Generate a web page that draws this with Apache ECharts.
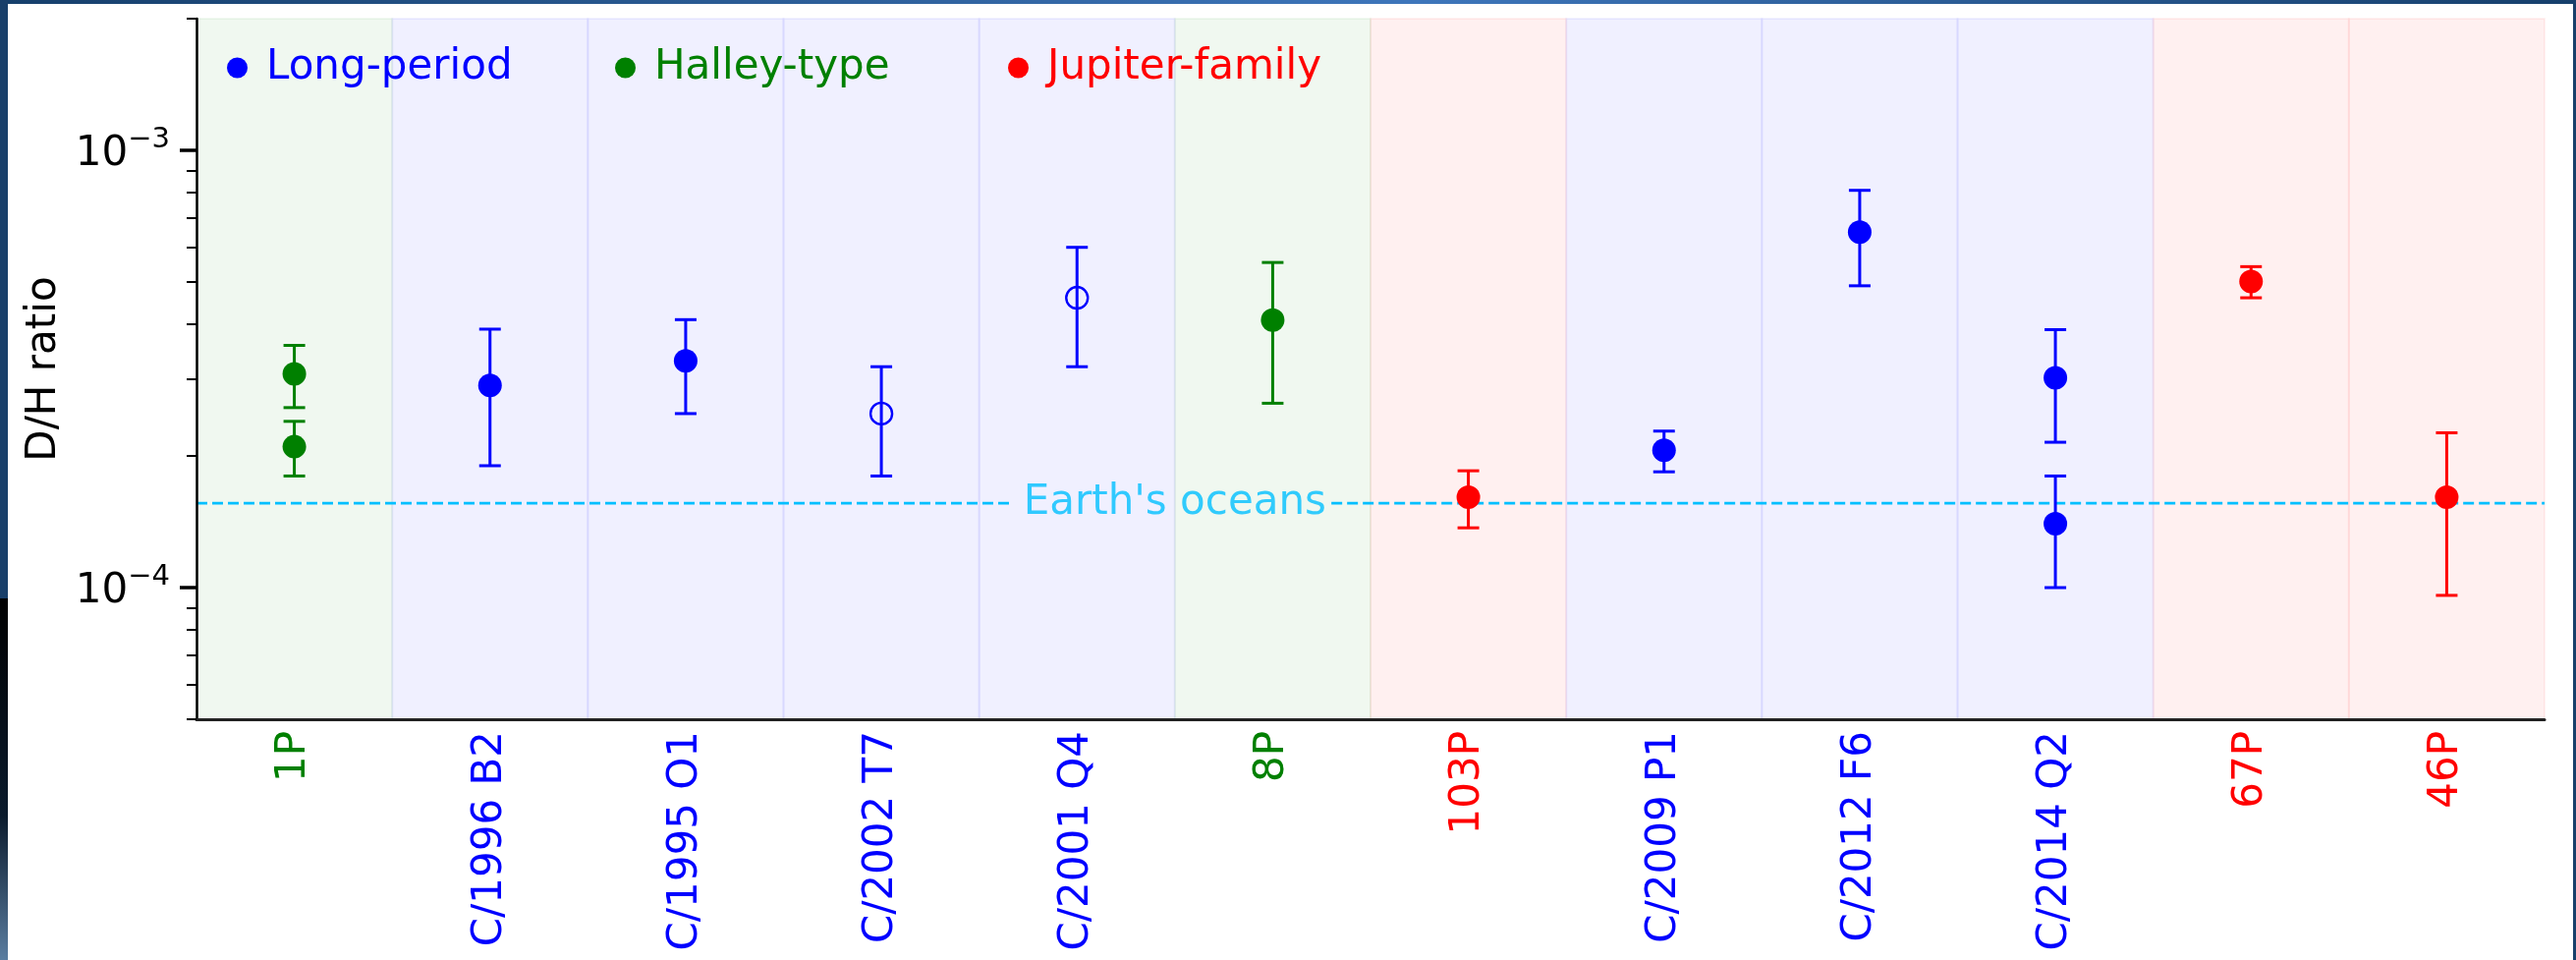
<!DOCTYPE html>
<html><head><meta charset="utf-8">
<script src="https://cdn.jsdelivr.net/npm/echarts@6/dist/echarts.min.js"></script>
<style>html,body{margin:0;padding:0;background:#fff;overflow:hidden}#c{width:2622px;height:977px}</style>
</head><body><div id="c"></div>
<script>
// ---------------- data ----------------
const categories = ['1P','C/1996 B2','C/1995 O1','C/2002 T7','C/2001 Q4','8P','103P','C/2009 P1','C/2012 F6','C/2014 Q2','67P','46P'];
const categoryFamily = ['Halley-type','Long-period','Long-period','Long-period','Long-period','Halley-type','Jupiter-family','Long-period','Long-period','Long-period','Jupiter-family','Jupiter-family'];
const families = ['Long-period','Halley-type','Jupiter-family'];

const measComet = ['1P','1P','C/1996 B2','C/1995 O1','C/2002 T7','C/2001 Q4','8P','103P','C/2009 P1','C/2012 F6','C/2014 Q2','C/2014 Q2','67P','46P'];
const measValue = [3.08e-4, 2.1e-4, 2.9e-4, 3.3e-4, 2.5e-4, 4.6e-4, 4.09e-4, 1.61e-4, 2.06e-4, 6.5e-4, 3.02e-4, 1.40e-4, 5.01e-4, 1.61e-4];
const measError = [0.5e-4, 0.3e-4, 1.0e-4, 0.8e-4, 0.7e-4, 1.4e-4, 1.45e-4, 0.24e-4, 0.22e-4, 1.6e-4, 0.87e-4, 0.4e-4, 0.41e-4, 0.65e-4];
const measOpen = [false,false,false,false,true,true,false,false,false,false,false,false,false,false];

const earthOceansDH = 1.56e-4;
const earthLabel = "Earth's oceans";

const yMin = 5e-5, yMax = 2e-3;
const majorTicks = [1e-4, 1e-3];
const majorTickExponents = ['\u22124', '\u22123'];
const minorTicks = [5e-5,6e-5,7e-5,8e-5,9e-5,2e-4,3e-4,4e-4,5e-4,6e-4,7e-4,8e-4,9e-4,2e-3];
const yAxisTitle = 'D/H ratio';

// ---------------- styling ----------------
const FONT = 'DejaVu Sans';
const familyColor = {'Long-period':'#0000ff','Halley-type':'#008000','Jupiter-family':'#ff0000'};
const bandFill = {'Long-period':'rgba(0,0,255,0.06)','Halley-type':'rgba(0,128,0,0.06)','Jupiter-family':'rgba(255,0,0,0.06)'};
const bandStroke = {'Long-period':'rgba(0,0,255,0.05)','Halley-type':'rgba(0,128,0,0.05)','Jupiter-family':'rgba(255,0,0,0.05)'};
const L = Math.log10;

const chart = echarts.init(document.getElementById('c'), null, {renderer:'canvas'});

const series = [];
// background bands
series.push({
  type:'custom', name:'bands', z:1, silent:true, xAxisIndex:0, yAxisIndex:0,
  data: categories.map((c,i)=>[i, L(yMax)]),
  renderItem(params, api){
    const i = api.value(0);
    const fam = categoryFamily[i];
    const p = api.coord([i, L(yMax)]);
    const w = api.size([1,0])[0];
    const cs = params.coordSys;
    return {type:'rect', shape:{x:p[0]-w/2, y:cs.y, width:w, height:cs.height},
      style:{fill:bandFill[fam], stroke:bandStroke[fam], lineWidth:2}};
  }
});

// earth oceans dashed line (split around the label)
const earthLineStyle = {color:'#00bfff', width:2.6, type:[11,5]};
series.push({type:'line', name:'earth1', xAxisIndex:1, yAxisIndex:0, z:2, symbol:'none', silent:true,
  data:[[0, L(earthOceansDH)],[4.17, L(earthOceansDH)]], lineStyle:earthLineStyle});
series.push({type:'line', name:'earth2', xAxisIndex:1, yAxisIndex:0, z:2, symbol:'none', silent:true,
  data:[[5.8, L(earthOceansDH)],[12, L(earthOceansDH)]], lineStyle:earthLineStyle});
series.push({type:'scatter', name:'earthLabel', xAxisIndex:1, yAxisIndex:0, z:2, symbolSize:1, silent:true,
  itemStyle:{color:'rgba(0,0,0,0)'},
  data:[[5, L(earthOceansDH)]],
  label:{show:true, position:'inside', formatter:earthLabel, color:'#00bfff', fontSize:42, fontFamily:FONT}});

families.forEach(fam=>{
  const idx = measComet.map((c,k)=>k).filter(k=>categoryFamily[categories.indexOf(measComet[k])]===fam);
  // error bars
  series.push({
    type:'custom', name:fam+' err', z:3, silent:true, xAxisIndex:0, yAxisIndex:0,
    encode:{x:0, y:[1,2]},
    data: idx.map(k=>[categories.indexOf(measComet[k]), L(measValue[k]-measError[k]), L(measValue[k]+measError[k])]),
    renderItem(params, api){
      const x = api.value(0);
      const a = api.coord([x, api.value(1)]);
      const b = api.coord([x, api.value(2)]);
      const st = {stroke:familyColor[fam], lineWidth:3};
      const cw = 11;
      return {type:'group', children:[
        {type:'line', shape:{x1:a[0], y1:a[1], x2:b[0], y2:b[1]}, style:st},
        {type:'line', shape:{x1:a[0]-cw, y1:a[1], x2:a[0]+cw, y2:a[1]}, style:st},
        {type:'line', shape:{x1:b[0]-cw, y1:b[1], x2:b[0]+cw, y2:b[1]}, style:st}
      ]};
    }
  });
  // filled markers
  series.push({
    type:'scatter', name:fam, z:4, xAxisIndex:0, yAxisIndex:0, symbol:'circle', symbolSize:24,
    itemStyle:{color:familyColor[fam], opacity:1},
    data: idx.filter(k=>!measOpen[k]).map(k=>[categories.indexOf(measComet[k]), L(measValue[k])])
  });
  const openIdx = idx.filter(k=>measOpen[k]);
  if (openIdx.length) {
    series.push({
      type:'scatter', name:fam+' (open)', z:4, xAxisIndex:0, yAxisIndex:0, symbol:'circle', symbolSize:22,
      itemStyle:{color:'rgba(0,0,0,0)', borderColor:familyColor[fam], borderWidth:2.4, opacity:1},
      data: openIdx.map(k=>[categories.indexOf(measComet[k]), L(measValue[k])])
    });
  }
});

const legendLefts = [231, 626, 1026];

const option = {
  animation:false,
  backgroundColor:'#ffffff',
  textStyle:{fontFamily:FONT},
  grid:{left:200, right:32, top:19, bottom:245, containLabel:false, outerBoundsMode:'none'},
  legend: families.map((f,i)=>({
    data:[f], left:legendLefts[i], top:48, orient:'horizontal', selectedMode:false,
    itemWidth:21, itemHeight:21, icon:'circle', padding:0,
    textStyle:{color:familyColor[f], fontSize:42, fontFamily:FONT, padding:[2,0,0,14]}
  })),
  xAxis:[
    {type:'category', data:categories, boundaryGap:true, gridIndex:0, z:5,
     axisLine:{show:true, lineStyle:{color:'#222', width:3}},
     axisTick:{show:false}, splitLine:{show:false},
     axisLabel:{show:true, rotate:90, margin:12, fontSize:42, fontFamily:FONT, interval:0,
       color:(v,i)=>familyColor[categoryFamily[categories.indexOf(v)]]}},
    {type:'value', min:0, max:12, show:false, gridIndex:0}
  ],
  yAxis:[
    {type:'value', position:'left', min:L(yMin), max:L(yMax), z:5,
     name:yAxisTitle, nameLocation:'middle', nameGap:134, nameRotate:90,
     nameTextStyle:{fontSize:42, color:'#000', fontFamily:FONT},
     axisLine:{show:true, lineStyle:{color:'#000', width:2.5}},
     splitLine:{show:false},
     axisTick:{show:true, inside:false, length:17, lineStyle:{color:'#000', width:3.5}, customValues:majorTicks.map(L)},
     axisLabel:{show:true, margin:27, customValues:majorTicks.map(L),
       formatter:(v)=>{const k = majorTicks.findIndex(t=>Math.abs(L(t)-v)<1e-6); return k<0?'':'{b|10}{s|'+majorTickExponents[k]+'}';},
       rich:{b:{fontSize:42, color:'#000', fontFamily:FONT, lineHeight:50, verticalAlign:'bottom'},
             s:{fontSize:29, color:'#000', fontFamily:FONT, lineHeight:30, verticalAlign:'top'}}}},
    {type:'value', position:'left', offset:0, min:L(yMin), max:L(yMax), z:5,
     axisLine:{show:false}, splitLine:{show:false}, axisLabel:{show:false},
     axisTick:{show:true, inside:false, length:10, lineStyle:{color:'#000', width:2}, customValues:minorTicks.map(L)}}
  ],
  graphic:[
    {type:'rect', left:0, top:0, z:100, shape:{width:2622, height:4},
     style:{fill:new echarts.graphic.LinearGradient(0,0,1,0,[{offset:0,color:'#163f6b'},{offset:0.55,color:'#3e76bb'},{offset:1,color:'#163f6b'}])}},
    {type:'rect', left:0, top:0, z:100, shape:{width:8, height:609}, style:{fill:'#183f6a'}},
    {type:'rect', left:0, top:609, z:100, shape:{width:8, height:368},
     style:{fill:new echarts.graphic.LinearGradient(0,0,0,1,[{offset:0,color:'#000'},{offset:0.6,color:'#0a1a2c'},{offset:1,color:'#5a7da0'}])}},
    {type:'rect', left:2619, top:0, z:100, shape:{width:3, height:977}, style:{fill:'#183f6a'}}
  ],
  series
};
chart.setOption(option);
</script></body></html>
